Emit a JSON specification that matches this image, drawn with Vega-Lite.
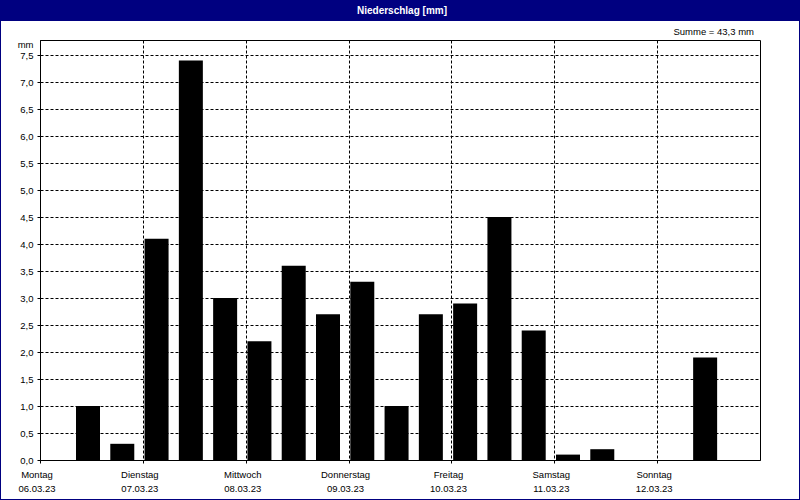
{
  "$schema": "https://vega.github.io/schema/vega-lite/v6.json",
  "autosize": {"type": "none"},
  "padding": {"left": 40, "top": 40, "right": 40, "bottom": 40},
  "width": 720,
  "height": 420,
  "background": "white",
  "config": {
    "font": "Liberation Sans",
    "view": {"stroke": "black", "strokeWidth": 1}
  },
  "data": {
    "values": [
      {"ende": "2023-03-06T06:00:00Z", "niederschlag": 0},
      {"ende": "2023-03-06T14:00:00Z", "niederschlag": 1.0},
      {"ende": "2023-03-06T22:00:00Z", "niederschlag": 0.3},
      {"ende": "2023-03-07T06:00:00Z", "niederschlag": 4.1},
      {"ende": "2023-03-07T14:00:00Z", "niederschlag": 7.4},
      {"ende": "2023-03-07T22:00:00Z", "niederschlag": 3.0},
      {"ende": "2023-03-08T06:00:00Z", "niederschlag": 2.2},
      {"ende": "2023-03-08T14:00:00Z", "niederschlag": 3.6},
      {"ende": "2023-03-08T22:00:00Z", "niederschlag": 2.7},
      {"ende": "2023-03-09T06:00:00Z", "niederschlag": 3.3},
      {"ende": "2023-03-09T14:00:00Z", "niederschlag": 1.0},
      {"ende": "2023-03-09T22:00:00Z", "niederschlag": 2.7},
      {"ende": "2023-03-10T06:00:00Z", "niederschlag": 2.9},
      {"ende": "2023-03-10T14:00:00Z", "niederschlag": 4.5},
      {"ende": "2023-03-10T22:00:00Z", "niederschlag": 2.4},
      {"ende": "2023-03-11T06:00:00Z", "niederschlag": 0.1},
      {"ende": "2023-03-11T14:00:00Z", "niederschlag": 0.2},
      {"ende": "2023-03-11T22:00:00Z", "niederschlag": 0},
      {"ende": "2023-03-12T06:00:00Z", "niederschlag": 0},
      {"ende": "2023-03-12T14:00:00Z", "niederschlag": 1.9},
      {"ende": "2023-03-12T22:00:00Z", "niederschlag": 0}
    ]
  },
  "resolve": {
    "scale": {"x": "independent", "y": "independent"},
    "axis": {"x": "independent", "y": "independent"}
  },
  "layer": [
    {
      "mark": {"type": "bar", "color": "#000000", "size": 24, "xOffset": -12},
      "encoding": {
        "x": {
          "field": "ende",
          "type": "temporal",
          "scale": {"type": "utc", "nice": false, "padding": 0, "domain": [1678060800000, 1678665600000]},
          "axis": {
            "orient": "bottom",
            "values": [1678060800000, 1678147200000, 1678233600000, 1678320000000, 1678406400000, 1678492800000, 1678579200000],
            "labelExpr": "[['Sonntag','Montag','Dienstag','Mittwoch','Donnerstag','Freitag','Samstag'][utcday(datum.value)], utcFormat(datum.value, '%d.%m.%y')]",
            "labelLineHeight": 14.5,
            "labelFontSize": 9.5,
            "labelFont": "Liberation Sans",
            "labelColor": "black",
            "labelPadding": 6,
            "labelOffset": -3.5,
            "labelAlign": "center",
            "labelBaseline": "top",
            "labelFlush": false,
            "labelOverlap": false,
            "labelBound": false,
            "tickSize": 3,
            "tickColor": "black",
            "domainColor": "black",
            "grid": true,
            "gridColor": "black",
            "gridDash": [3, 2],
            "gridOpacity": 1,
            "title": null
          }
        },
        "y": {
          "field": "niederschlag",
          "type": "quantitative",
          "scale": {"domain": [0, 7.78], "nice": false, "zero": true, "padding": 0},
          "axis": {
            "orient": "left",
            "values": [0, 0.5, 1, 1.5, 2, 2.5, 3, 3.5, 4, 4.5, 5, 5.5, 6, 6.5, 7, 7.5],
            "labelExpr": "replace(format(datum.value, '.1f'), '.', ',')",
            "labelFontSize": 9.5,
            "labelFont": "Liberation Sans",
            "labelColor": "black",
            "labelPadding": 4,
            "labelFlush": false,
            "labelOverlap": false,
            "tickSize": 3,
            "tickColor": "black",
            "domainColor": "black",
            "grid": true,
            "gridColor": "black",
            "gridDash": [3, 2],
            "gridOpacity": 1,
            "title": "mm",
            "titleAngle": 0,
            "titleAlign": "right",
            "titleBaseline": "middle",
            "titleX": -7,
            "titleY": 4,
            "titleFontSize": 9.5,
            "titleFont": "Liberation Sans",
            "titleFontWeight": "normal",
            "titleColor": "black"
          }
        }
      }
    },
    {
      "mark": {"type": "point", "opacity": 0},
      "encoding": {
        "x": {
          "field": "ende",
          "type": "temporal",
          "scale": {"type": "utc", "nice": false, "padding": 0, "domain": [1678060800000, 1678665600000], "range": [-40, 760]},
          "axis": {
            "orient": "top",
            "labels": false,
            "ticks": false,
            "grid": false,
            "domain": true,
            "domainColor": "#000080",
            "domainWidth": 21,
            "domainCap": "butt",
            "translate": 0,
            "offset": 29.5,
            "title": "Niederschlag [mm]",
            "titleColor": "white",
            "titleFontWeight": "bold",
            "titleFontSize": 10,
            "titleFont": "Liberation Sans",
            "titleAlign": "center",
            "titleBaseline": "middle",
            "titleX": 362,
            "titleY": 0
          }
        },
        "y": {
          "field": "niederschlag",
          "type": "quantitative",
          "scale": {"domain": [0, 7.78], "nice": false, "padding": 0, "range": [460, -40]},
          "axis": {
            "orient": "right",
            "labels": false,
            "ticks": false,
            "grid": false,
            "domain": true,
            "domainColor": "#000080",
            "domainWidth": 1,
            "domainCap": "butt",
            "translate": 0,
            "offset": 39.5,
            "title": "Summe = 43,3 mm",
            "titleAngle": 0,
            "titleAlign": "right",
            "titleBaseline": "alphabetic",
            "titleX": -45.5,
            "titleY": -5,
            "titleColor": "black",
            "titleFontWeight": "normal",
            "titleFontSize": 9.5,
            "titleFont": "Liberation Sans"
          }
        }
      }
    },
    {
      "mark": {"type": "point", "opacity": 0},
      "encoding": {
        "x": {
          "field": "ende",
          "type": "temporal",
          "scale": {"type": "utc", "nice": false, "padding": 0, "domain": [1678060800000, 1678665600000], "range": [-40, 760]},
          "axis": {
            "orient": "bottom",
            "labels": false,
            "ticks": false,
            "grid": false,
            "domain": true,
            "domainColor": "#000080",
            "domainWidth": 1,
            "domainCap": "butt",
            "translate": 0,
            "offset": 39.5,
            "title": null
          }
        },
        "y": {
          "field": "niederschlag",
          "type": "quantitative",
          "scale": {"domain": [0, 7.78], "nice": false, "padding": 0, "range": [460, -40]},
          "axis": {
            "orient": "left",
            "labels": false,
            "ticks": false,
            "grid": false,
            "domain": true,
            "domainColor": "#000080",
            "domainWidth": 1,
            "domainCap": "butt",
            "translate": 0,
            "offset": 39.5,
            "title": null
          }
        }
      }
    }
  ]
}
